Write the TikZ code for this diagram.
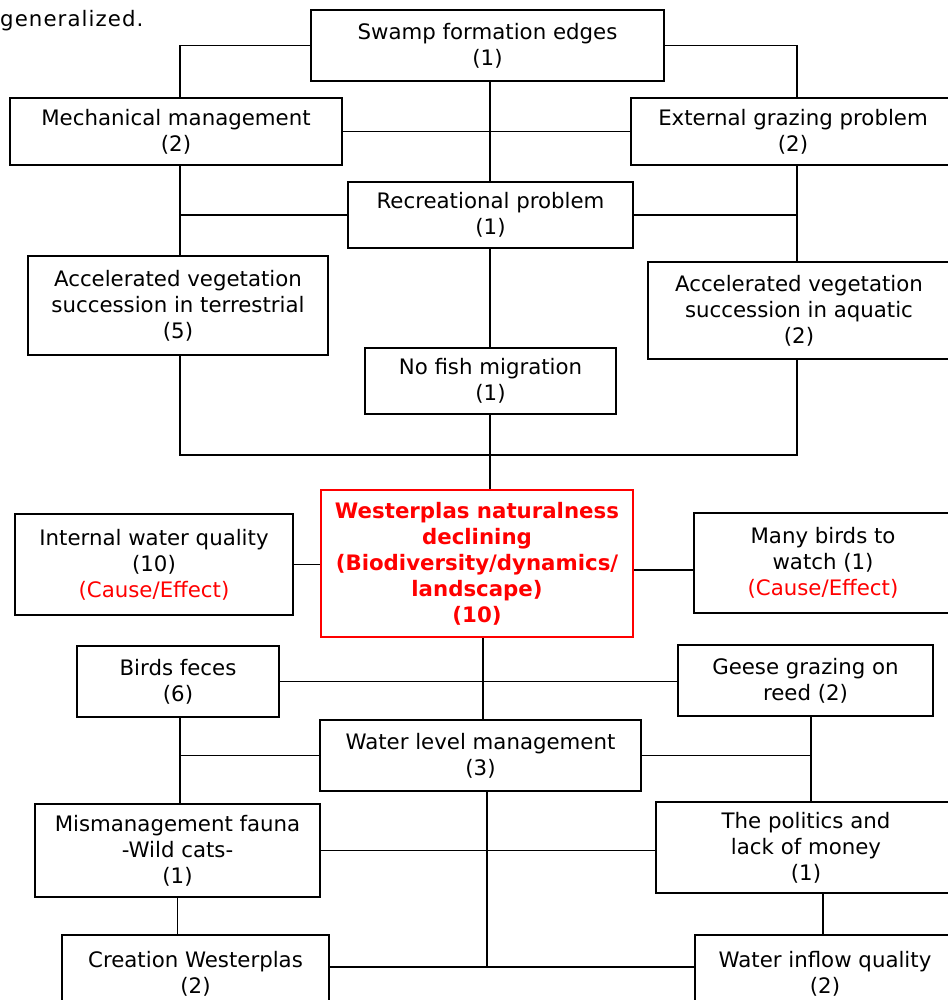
\documentclass[tikz,border=0pt]{standalone}
\usepackage{fontspec}
\setmainfont{DejaVu Sans}
\begin{document}
\begin{tikzpicture}[x=1pt,y=-1pt,
  box/.style={draw=black, line width=1.3pt, align=center, inner sep=0pt,
    font=\fontsize{21.3}{26}\selectfont,
    execute at begin node={\rule{0pt}{30pt}}},
  keybox/.style={box, draw=red, line width=2pt, text=red,
    font=\fontsize{21.3}{26}\selectfont\bfseries},
  link/.style={line width=1.3pt, draw=black}]
\useasboundingbox (0,0) rectangle (947,1000);

% column and row guides for the connectors
\coordinate (cL) at (180,0);
\coordinate (cM) at (490,0);
\coordinate (cR) at (797,0);
\coordinate (cC) at (483,0);
\coordinate (cC2) at (487,0);
\coordinate (cBL) at (180,0);
\coordinate (cBR) at (811,0);
\coordinate (cBR2) at (823,0);
\coordinate (rTop) at (0,455);
\coordinate (rBirds) at (0,570);
\coordinate (rBot) at (0,967);

\node[anchor=base west, inner sep=0pt, font=\fontsize{21.3}{26}\selectfont\addfontfeature{LetterSpace=5}] (cap) at (0,27) {generalized.};

% upper half
\node[box, minimum width=353pt, minimum height=71pt] (sw) at (487.5,45.5) {Swamp formation edges\\(1)};
\node[box, minimum width=332pt, minimum height=67pt] (mech) at (176,131.5) {Mechanical management\\(2)};
\node[box, minimum width=324pt, minimum height=67pt] (ext) at (793,131.5) {External grazing problem\\(2)};
\node[box, minimum width=285pt, minimum height=66pt] (rec) at (490.5,215) {Recreational problem\\(1)};
\node[box, minimum width=300pt, minimum height=99pt] (avt) at (178,305.5) {Accelerated vegetation\\succession in terrestrial\\(5)};
\node[box, minimum width=302pt, minimum height=97pt] (ava) at (799,310.5) {Accelerated vegetation\\succession in aquatic\\(2)};
\node[box, minimum width=251pt, minimum height=66pt] (fish) at (490.5,381) {No fish migration\\(1)};

% central problem and its neighbours
\node[keybox, minimum width=312pt, minimum height=147pt] (main) at (477,563.5) {Westerplas naturalness\\declining\\(Biodiversity/dynamics/\\landscape)\\(10)};
\node[box, minimum width=278pt, minimum height=101pt] (iwq) at (154,564.5) {Internal water quality\\(10)\\{\color{red}(Cause/Effect)}};
\node[box, minimum width=258pt, minimum height=100pt] (birds) at (823,563) {Many birds to\\watch (1)\\{\color{red}(Cause/Effect)}};

% lower half
\node[box, minimum width=202pt, minimum height=71pt] (feces) at (178,681.5) {Birds feces\\(6)};
\node[box, minimum width=255pt, minimum height=71pt] (geese) at (805.5,680.5) {Geese grazing on\\reed (2)};
\node[box, minimum width=321pt, minimum height=71pt] (wlm) at (480.5,755.5) {Water level management\\(3)};
\node[box, minimum width=285pt, minimum height=93pt] (mis) at (177.5,850.5) {Mismanagement fauna\\-Wild cats-\\(1)};
\node[box, minimum width=300pt, minimum height=91pt] (pol) at (806,847.5) {The politics and\\lack of money\\(1)};
\node[box, minimum width=267pt, minimum height=77pt] (cre) at (195.5,973.5) {Creation Westerplas\\(2)};
\node[box, minimum width=260pt, minimum height=77pt] (wiq) at (825,973.5) {Water inflow quality\\(2)};

% connectors, upper half
\draw[link] (sw.west) -| (cL |- mech.north);
\draw[link] (sw.east) -| (cR |- ext.north);
\draw[link] (cM |- sw.south) -- (cM |- rec.north);
\draw[link] (mech.east) -- (ext.west);
\draw[link] (cL |- mech.south) -- (cL |- avt.north);
\draw[link] (cL |- rec.west) -- (rec.west);
\draw[link] (rec.east) -- (cR |- rec.east);
\draw[link] (cR |- ext.south) -- (cR |- ava.north);
\draw[link] (cM |- rec.south) -- (cM |- fish.north);
\draw[link] (cL |- avt.south) |- (cR |- rTop) -- (cR |- ava.south);
\draw[link] (cM |- fish.south) -- (cM |- main.north);

% connectors at the centre
\draw[link] (iwq.east) -- (main.west |- iwq.east);
\draw[link] (birds.west |- rBirds) -- (main.east |- rBirds);

% connectors, lower half
\draw[link] (cC |- main.south) -- (cC |- wlm.north);
\draw[link] (feces.east) -- (geese.west |- feces.east);
\draw[link] (cBL |- feces.south) -- (cBL |- mis.north);
\draw[link] (cBL |- wlm.west) -- (wlm.west);
\draw[link] (wlm.east) -- (cBR |- wlm.east);
\draw[link] (cBR |- geese.south) -- (cBR |- pol.north);
\draw[link] (mis.east) -- (pol.west |- mis.east);
\draw[link] (cC2 |- wlm.south) -- (cC2 |- rBot);
\draw[link] (cre.east |- rBot) -- (wiq.west |- rBot);
\draw[link] (mis.south) -- (mis.south |- cre.north);
\draw[link] (cBR2 |- pol.south) -- (cBR2 |- wiq.north);
\end{tikzpicture}
\end{document}
